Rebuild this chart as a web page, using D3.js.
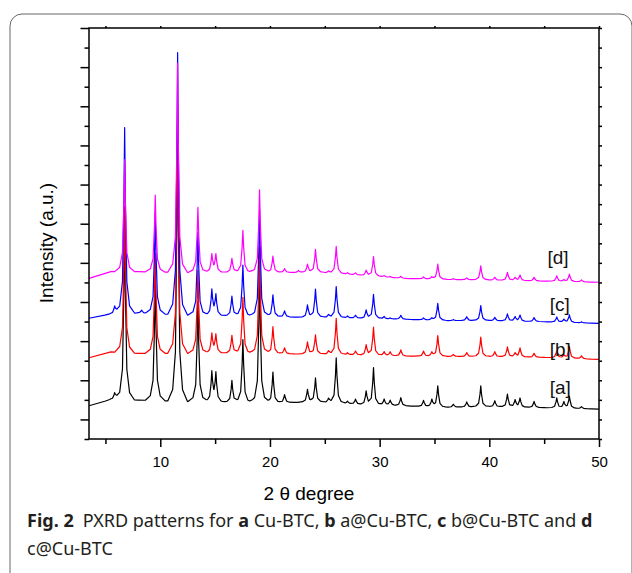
<!DOCTYPE html>
<html>
<head>
<meta charset="utf-8">
<script src="https://cdn.jsdelivr.net/npm/d3@7"></script>
<style>
  body { margin: 0; background: #fff; }
  svg { display: block; }
</style>
</head>
<body>
<div id="chart"></div>
<script>
var width = 632, height = 573;

// 2 theta positions of the reflections (degrees), shared by all patterns
var peakPos = [5.84, 6.75, 8.3, 9.54, 11.58, 13.43, 14.7, 15.07, 16.53, 17.53,
  19.05, 20.27, 21.33, 22.6, 23.42, 24.15, 25.34, 26.04, 27.07, 27.8,
  28.77, 29.44, 30.41, 30.96, 31.93, 34.0, 34.76, 35.3, 36.72, 37.94,
  39.22, 40.5, 41.65, 42.35, 42.8, 44.08, 46.15, 46.8, 47.3, 48.4];

// peak heights above background (a.u.)
var peaksA = [36, 920, 0, 613, 1482, 511, 148, 143, 112, 322,
  664, 158, 41, 0, 64, 123, 18, 230, 13, 26,
  66, 189, 31, 26, 41, 31, 36, 107, 15, 26,
  107, 31, 66, 36, 46, 31, 51, 31, 61, 10];
var peaksB = [0, 746, 0, 511, 1216, 424, 97, 92, 92, 286,
  547, 138, 31, 0, 61, 97, 15, 184, 10, 20,
  51, 143, 20, 20, 31, 26, 20, 105, 10, 20,
  100, 26, 51, 20, 46, 20, 36, 15, 61, 15];
var peaksC = [41, 950, 15, 511, 1339, 424, 128, 102, 102, 261,
  547, 112, 31, 0, 61, 143, 13, 158, 10, 15,
  41, 123, 12, 5, 20, 10, 10, 87, 5, 20,
  77, 17, 36, 22, 31, 20, 26, 15, 38, 5];
var peaksD = [0, 572, 0, 393, 1068, 332, 89, 89, 72, 215,
  422, 84, 20, 10, 41, 118, 8, 138, 8, 10,
  26, 100, 8, 5, 10, 10, 10, 77, 5, 10,
  72, 15, 41, 15, 28, 18, 28, 8, 38, 10];

// background (offset) of each pattern at a few 2 theta knots
var bgX = [3.5, 5.5, 8, 12, 16, 20, 23, 25, 28, 32, 36, 40, 45, 50];
var bgA = [170, 202, 199, 192, 188, 184, 188, 188, 177, 170, 162, 165, 160, 153];
var bgB = [415, 445, 438, 438, 438, 436, 434, 434, 429, 424, 422, 421, 417, 407];
var bgC = [617, 639, 644, 634, 629, 625, 622, 622, 617, 612, 605, 605, 599, 591];
var bgD = [821, 855, 855, 851, 851, 851, 851, 850, 838, 821, 815, 812, 807, 801];

var seriesNames = ['[a]', '[b]', '[c]', '[d]'];
var seriesColors = ['#000000', '#ff0000', '#0000ff', '#ff00ff'];
var labelX = [45.5, 45.5, 45.5, 45.3];
var labelY = [230, 424, 654, 894];

var xTicksMajor = [10, 20, 30, 40, 50];
var xTicksMinor = [5, 15, 25, 35, 45];
var yTicksMajor = d3.range(100, 2101, 200);
var yTicksMinor = d3.range(0, 2001, 200);

var x = d3.scaleLinear().domain([3.5, 50]).range([89, 599]);
var y = d3.scaleLinear().domain([0, 2100]).range([439, 28]);

// peak shape: share of the height left at a given distance from the centre
var shapeOff = [0, 0.07, 0.2, 0.45, 0.9];
var shape = d3.scaleLinear().domain(shapeOff).range([1, 0.6, 0.17, 0.04, 0]).clamp(true);

var buildPattern = function(bg, heights) {
  var base = d3.scaleLinear().domain(bgX).range(bg);
  var xs = bgX.slice();
  peakPos.forEach(function(p, i) {
    if (!heights[i]) return;
    shapeOff.forEach(function(o) {
      xs.push(p - o);
      if (o > 0) xs.push(p + o);
    });
  });
  xs = xs.filter(function(v) { return v >= 3.5 && v <= 50; });
  xs.sort(function(a, b) { return a - b; });
  return xs.map(function(t) {
    var v = base(t);
    for (var i = 0; i < peakPos.length; i++) {
      if (heights[i]) v += heights[i] * shape(Math.abs(t - peakPos[i]));
    }
    return [t, v];
  });
};

var patterns = [
  buildPattern(bgA, peaksA),
  buildPattern(bgB, peaksB),
  buildPattern(bgC, peaksC),
  buildPattern(bgD, peaksD)
];

var svg = d3.select('#chart').append('svg')
  .attr('width', width)
  .attr('height', height);

// outer rounded panel
svg.append('rect')
  .attr('x', 10).attr('y', 14)
  .attr('width', 622).attr('height', 620)
  .attr('rx', 12)
  .attr('fill', 'none')
  .attr('stroke', '#666')
  .attr('stroke-width', 1);

var line = d3.line()
  .x(function(d) { return x(d[0]); })
  .y(function(d) { return y(d[1]); });

svg.append('g').selectAll('path')
  .data(patterns)
  .enter()
  .append('path')
  .attr('d', line)
  .attr('fill', 'none')
  .attr('stroke', function(d, i) { return seriesColors[i]; })
  .attr('stroke-width', 1.2)
  .attr('stroke-linejoin', 'round');

var addAxis = function(axis, tx, ty) {
  var g = svg.append('g')
    .attr('transform', 'translate(' + tx + ',' + ty + ')')
    .call(axis);
  g.select('.domain').remove();
  g.selectAll('line').attr('stroke', '#000').attr('stroke-width', 1.5);
  return g;
};

var xAxis = addAxis(d3.axisBottom(x).tickValues(xTicksMajor).tickSize(8).tickPadding(9.5), 0, 439);
xAxis.selectAll('text')
  .attr('font-family', '"Liberation Sans", Arial, sans-serif')
  .attr('font-size', 15)
  .attr('fill', '#000');
addAxis(d3.axisBottom(x).tickValues(xTicksMinor).tickSize(5).tickFormat(''), 0, 439);
addAxis(d3.axisTop(x).tickValues(xTicksMajor.concat(xTicksMinor)).tickSize(2).tickFormat(''), 0, 28);
addAxis(d3.axisLeft(y).tickValues(yTicksMajor).tickSize(8.5).tickFormat(''), 89, 0);
addAxis(d3.axisLeft(y).tickValues(yTicksMinor).tickSize(4.5).tickFormat(''), 89, 0);
addAxis(d3.axisRight(y).tickValues(yTicksMajor.concat(yTicksMinor)).tickSize(3).tickFormat(''), 599, 0);

// frame
svg.append('rect')
  .attr('x', x(3.5)).attr('y', y(2100))
  .attr('width', x(50) - x(3.5)).attr('height', y(0) - y(2100))
  .attr('fill', 'none')
  .attr('stroke', '#000')
  .attr('stroke-width', 1.5);

// pattern labels
svg.append('g').selectAll('text')
  .data(seriesNames)
  .enter()
  .append('text')
  .attr('x', function(d, i) { return x(labelX[i]); })
  .attr('y', function(d, i) { return y(labelY[i]); })
  .attr('font-family', '"Liberation Sans", Arial, sans-serif')
  .attr('font-size', 19)
  .attr('fill', '#111')
  .text(function(d) { return d; });

svg.append('text')
  .attr('x', 309).attr('y', 500)
  .attr('text-anchor', 'middle')
  .attr('font-family', '"Liberation Sans", Arial, sans-serif')
  .attr('font-size', 19)
  .text('2 \u03b8 degree');

svg.append('text')
  .attr('transform', 'translate(53,243) rotate(-90)')
  .attr('text-anchor', 'middle')
  .attr('font-family', '"Liberation Sans", Arial, sans-serif')
  .attr('font-size', 19)
  .text('Intensity (a.u.)');

// caption
var caption = [
  [['Fig. 2', true], ['\u2002PXRD patterns for ', false], ['a', true], [' Cu-BTC, ', false],
   ['b', true], [' a@Cu-BTC, ', false], ['c', true], [' b@Cu-BTC and ', false], ['d', true]],
  [['c@Cu-BTC', false]]
];
var capY = [527, 555];
caption.forEach(function(parts, li) {
  var t = svg.append('text')
    .attr('x', 27).attr('y', capY[li])
    .attr('font-family', '"Noto Sans", "Open Sans", sans-serif')
    .attr('font-size', 18)
    .attr('fill', '#231f20')
    .attr('xml:space', 'preserve');
  parts.forEach(function(p) {
    t.append('tspan')
      .attr('font-weight', p[1] ? 'bold' : 'normal')
      .text(p[0]);
  });
});
</script>
</body>
</html>
